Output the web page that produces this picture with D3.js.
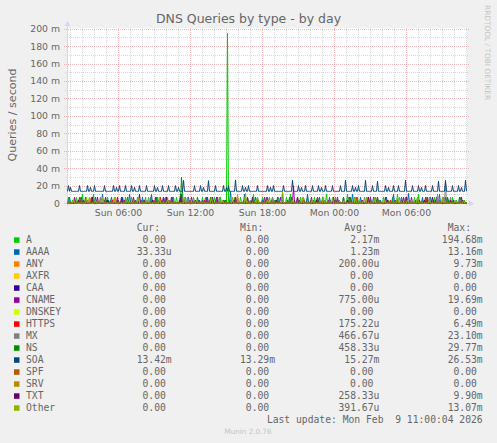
<!DOCTYPE html>
<html>
<head>
<meta charset="utf-8">
<script src="https://cdn.jsdelivr.net/npm/d3@7"></script>
<style>
body { margin: 0; background: #f0f0f0; }
svg { display: block; }
</style>
</head>
<body>
<svg id="chart" width="497" height="443"></svg>
<script>
// 400 five-minute slots, Sun 01:45 -> Mon 11:05
const slotStart = new Date(2026, 1, 8, 1, 45);
const slotCount = 400;

const seriesNames = ["A", "AAAA", "ANY", "AXFR", "CAA", "CNAME", "DNSKEY", "HTTPS", "MX", "NS", "SOA", "SPF", "SRV", "TXT", "Other"];
const seriesColors = ["#00cc00", "#0066b3", "#ff8000", "#ffcc00", "#330099", "#990099", "#ccff00", "#ff0000", "#808080", "#008f00", "#00487d", "#b35a00", "#b38f00", "#6b006b", "#8fb300"];
const curValues = ["0.00", "33.33u", "0.00", "0.00", "0.00", "0.00", "0.00", "0.00", "0.00", "0.00", "13.42m", "0.00", "0.00", "0.00", "0.00"];
const minValues = ["0.00", "0.00", "0.00", "0.00", "0.00", "0.00", "0.00", "0.00", "0.00", "0.00", "13.29m", "0.00", "0.00", "0.00", "0.00"];
const avgValues = ["2.17m", "1.23m", "200.00u", "0.00", "0.00", "775.00u", "0.00", "175.22u", "466.67u", "458.33u", "15.27m", "0.00", "0.00", "258.33u", "391.67u"];
const maxValues = ["194.68m", "13.16m", "9.73m", "0.00", "0.00", "19.69m", "0.00", "6.49m", "23.10m", "29.77m", "26.53m", "0.00", "0.00", "9.90m", "13.07m"];

const yTicks = [0, 20, 40, 60, 80, 100, 120, 140, 160, 180, 200];        // milli-queries/s
const yTickLabels = ["0", "20 m", "40 m", "60 m", "80 m", "100 m", "120 m", "140 m", "160 m", "180 m", "200 m"];

// per series: baseline level (m) and spikes as [slot, value in m]
const baselines = { SOA: 13.4 };
const spikesA = [[1,6.7],[5,3.3],[9,6.7],[13,6.7],[15,10],[18,3.3],[22,6.7],[26,10],[29,3.3],[33,6.7],[37,3.3],[40,6.7],[43,3.3],[47,6.7],[51,3.3],[55,6.7],[58,6.7],[61,3.3],[64,6.7],[68,3.3],[70,6.7],[74,3.3],[78,6.7],[83,6.7],[86,3.3],[90,6.7],[94,3.3],[98,6.7],[102,3.3],[106,6.7],[109,6.7],[112,3.3],[118,6.7],[122,3.3],[126,6.7],[131,3.3],[135,6.7],[138,6.7],[142,3.3],[147,6.7],[150,3.3],[153,6.7],[157,3.3],[160,194.68],[163,3.3],[167,6.7],[173,6.7],[176,3.3],[180,6.7],[183,3.3],[186,10],[191,3.3],[195,6.7],[198,3.3],[202,6.7],[207,3.3],[211,6.7],[215,3.3],[219,6.7],[223,10],[227,3.3],[233,6.7],[237,3.3],[240,6.7],[243,3.3],[247,6.7],[251,3.3],[255,6.7],[259,10],[263,3.3],[268,6.7],[272,3.3],[276,6.7],[280,10],[284,3.3],[287,6.7],[290,6.7],[294,3.3],[299,6.7],[303,3.3],[308,6.7],[312,3.3],[316,6.7],[321,3.3],[325,6.7],[330,10],[334,3.3],[338,6.7],[342,3.3],[347,6.7],[351,10],[355,3.3],[359,6.7],[363,3.3],[367,6.7],[372,3.3],[376,6.7],[381,3.3],[385,6.7],[389,3.3],[393,6.7],[397,3.3]];
const spikesAAAA = [[2,6.7],[8,3.3],[14,6.7],[20,3.3],[28,6.7],[35,10],[41,3.3],[44,6.7],[50,3.3],[55,6.7],[62,10],[68,3.3],[75,6.7],[80,3.3],[84,10],[91,3.3],[96,6.7],[101,3.3],[105,6.7],[113,10],[117,3.3],[121,6.7],[126,3.3],[130,6.7],[135,3.3],[139,6.7],[145,3.3],[150,6.7],[156,3.3],[163,13.16],[167,3.3],[170,6.7],[177,10],[183,3.3],[188,6.7],[195,3.3],[199,6.7],[204,3.3],[210,6.7],[215,10],[220,3.3],[224,6.7],[232,3.3],[236,6.7],[240,10],[246,3.3],[252,6.7],[257,3.3],[262,6.7],[270,3.3],[276,6.7],[285,10],[289,3.3],[293,6.7],[300,3.3],[306,6.7],[313,3.3],[319,6.7],[326,10],[330,3.3],[334,6.7],[341,11],[348,3.3],[355,6.7],[360,3.3],[363,6.7],[368,3.3],[372,10],[376,3.3],[380,6.7],[386,3.3],[392,6.7],[396,3.3],[399,0.033]];
const spikesANY = [[8,3.3],[22,6.7],[34,3.3],[48,6.7],[65,3.3],[100,6.7],[126,3.3],[170,9.73],[198,3.3],[236,6.7],[270,3.3],[300,6.7],[340,3.3],[375,6.7]];
const spikesCNAME = [[7,6.7],[16,3.3],[30,6.7],[38,6.7],[50,6.7],[57,3.3],[66,6.7],[77,3.3],[88,6.7],[96,6.7],[104,6.7],[114,10],[124,6.7],[132,3.3],[140,6.7],[149,6.7],[158,3.3],[168,6.7],[180,6.7],[190,3.3],[197,6.7],[205,6.7],[213,6.7],[226,19.69],[236,3.3],[244,6.7],[250,6.7],[261,3.3],[270,6.7],[282,6.7],[295,3.3],[303,6.7],[310,6.7],[318,6.7],[328,3.3],[336,6.7],[344,6.7],[352,3.3],[360,6.7],[369,6.7],[378,6.7],[386,3.3],[394,6.7]];
const spikesHTTPS = [[12,6.49],[16,3.3],[24,6.49],[45,3.3],[93,6.49],[137,3.3],[200,6.49],[255,3.3],[289,6.49],[323,3.3],[358,6.49]];
const spikesMX = [[33,6.7],[58,3.3],[81,6.7],[100,3.3],[120,6.7],[152,6.7],[183,3.3],[205,6.7],[230,6.7],[262,3.3],[281,6.7],[297,6.7],[318,3.3],[332,6.7],[350,3.3],[362,6.7],[370,10],[378,23.1],[383,6.7],[393,3.3]];
const spikesNS = [[18,6.7],[39,3.3],[60,6.7],[76,3.3],[89,6.7],[114,29.77],[115,10],[143,6.7],[168,3.3],[190,6.7],[208,3.3],[222,6.7],[250,6.7],[268,3.3],[283,6.7],[310,6.7],[330,3.3],[350,6.7],[366,3.3],[380,6.7]];
const spikesSOA = [[1,20],[3,18],[12,20],[20,20],[23,18],[27,20],[37,20],[46,20],[49,18],[52,20],[58,20],[64,20],[67,18],[72,20],[79,20],[87,20],[90,18],[95,20],[101,20],[108,20],[111,18],[116,26],[127,20],[133,20],[136,18],[141,25.6],[148,20],[156,20],[159,18],[161,20],[168,26.5],[175,20],[178,18],[181,20],[190,20],[200,20],[203,18],[206,20],[216,20],[225,26],[231,20],[234,18],[238,20],[245,20],[251,20],[254,18],[258,20],[265,20],[273,20],[278,26],[285,20],[288,18],[291,20],[298,26],[305,20],[310,25],[318,20],[321,18],[326,20],[331,20],[338,26],[345,20],[351,20],[354,18],[358,20],[365,20],[371,25],[378,26],[385,20],[391,20],[394,18],[398,26]];
const spikesTXT = [[11,3.3],[25,6.7],[40,3.3],[54,6.7],[72,9.9],[85,3.3],[99,6.7],[113,6.7],[128,3.3],[145,6.7],[166,3.3],[185,6.7],[209,3.3],[230,6.7],[249,3.3],[266,6.7],[280,3.3],[301,6.7],[320,3.3],[339,6.7],[357,3.3],[365,6.7],[383,3.3],[395,3.3]];
const spikesOther = [[6,3.3],[19,6.7],[28,3.3],[35,6.7],[47,6.7],[60,3.3],[71,6.7],[80,3.3],[92,6.7],[100,3.3],[117,6.7],[129,3.3],[144,6.7],[155,3.3],[165,6.7],[178,11],[190,6.7],[200,3.3],[215,13.07],[225,3.3],[235,6.7],[245,3.3],[256,6.7],[265,6.7],[277,3.3],[288,6.7],[296,3.3],[307,6.7],[317,3.3],[330,6.7],[340,3.3],[350,6.7],[362,3.3],[375,6.7],[388,3.3],[396,3.3]];

const spikesByName = { A: spikesA, AAAA: spikesAAAA, ANY: spikesANY, CNAME: spikesCNAME, HTTPS: spikesHTTPS, MX: spikesMX, NS: spikesNS, SOA: spikesSOA, TXT: spikesTXT, Other: spikesOther };

function buildSeries(name) {
    var base = baselines[name] || 0;
    var vals = new Array(slotCount).fill(base);
    (spikesByName[name] || []).forEach(s => { vals[s[0]] = s[1]; });
    return vals;
}

var svg = d3.select("#chart");
var plotLeft = 67, plotRight = 467, plotTop = 28, plotBottom = 203;
var axisColor = "#cfd6f8", fontColor = "#666666";
var minorGrid = "rgba(192,192,192,0.6)", majorGrid = "rgba(230,128,128,0.55)";
var slotEnd = d3.timeMinute.offset(slotStart, slotCount * 5);

var x = d3.scaleTime().domain([slotStart, slotEnd]).range([plotLeft, plotRight]);
var y = d3.scaleLinear().domain([0, 200]).range([plotBottom, plotBottom - 174.3]);

svg.append("rect").attr("width", 497).attr("height", 443).attr("fill", "#f0f0f0");
svg.append("rect").attr("x", plotLeft).attr("y", plotTop)
    .attr("width", plotRight - plotLeft).attr("height", plotBottom - plotTop).attr("fill", "#ffffff");

// grid
var grid = svg.append("g").attr("shape-rendering", "crispEdges").attr("stroke-dasharray", "1,1");
var hours = d3.timeHour.every(1).range(slotStart, slotEnd);
hours.forEach(h => {
    var major = h.getHours() % 6 === 0;
    var px = Math.round(x(h)) + 0.5;
    grid.append("line")
        .attr("x1", px).attr("x2", px).attr("y1", plotTop).attr("y2", plotBottom + (major ? 3 : 2))
        .attr("stroke", major ? majorGrid : minorGrid);
});
d3.range(10, 201, 10).forEach(v => {
    var major = v % 20 === 0;
    var py = Math.round(y(v)) + 0.5;
    grid.append("line")
        .attr("x1", plotLeft - (major ? 3 : 2)).attr("x2", plotRight + 2).attr("y1", py).attr("y2", py)
        .attr("stroke", major ? majorGrid : minorGrid);
});

// axes
svg.append("line").attr("x1", plotLeft - 3).attr("x2", plotRight + 3).attr("y1", plotBottom + 0.5).attr("y2", plotBottom + 0.5)
    .attr("stroke", axisColor).attr("shape-rendering", "crispEdges");
svg.append("line").attr("x1", plotLeft + 0.5).attr("x2", plotLeft + 0.5).attr("y1", plotBottom + 3).attr("y2", plotTop - 4)
    .attr("stroke", axisColor).attr("shape-rendering", "crispEdges");
svg.append("path").attr("d", `M${plotRight + 7},${plotBottom + 0.5} L${plotRight + 2},${plotBottom - 2.5} L${plotRight + 2},${plotBottom + 3.5} Z`).attr("fill", axisColor);
svg.append("path").attr("d", `M${plotLeft + 0.5},${plotTop - 7} L${plotLeft - 2.5},${plotTop - 2} L${plotLeft + 3.5},${plotTop - 2} Z`).attr("fill", axisColor);

// series lines
svg.append("clipPath").attr("id", "plotclip").append("rect")
    .attr("x", plotLeft).attr("y", plotTop).attr("width", plotRight - plotLeft).attr("height", plotBottom - plotTop + 1);
var line = d3.line()
    .x((d, i) => x(d3.timeMinute.offset(slotStart, i * 5)) + 0.5)
    .y(d => y(d));
var lines = svg.append("g").attr("clip-path", "url(#plotclip)");
seriesNames.forEach((name, k) => {
    lines.append("path")
        .datum(buildSeries(name))
        .attr("d", line)
        .attr("fill", "none")
        .attr("stroke", seriesColors[k])
        .attr("stroke-width", 1);
});

// tick labels
var tickFont = "DejaVu Sans";
svg.append("g").selectAll("text").data(yTicks).enter().append("text")
    .attr("x", 60).attr("y", d => y(d) + 3.5)
    .attr("text-anchor", "end")
    .attr("font-family", tickFont).attr("font-size", 9.3).attr("fill", fontColor)
    .text((d, i) => yTickLabels[i]);
var majorHours = hours.filter(h => h.getHours() % 6 === 0);
svg.append("g").selectAll("text").data(majorHours).enter().append("text")
    .attr("x", d => Math.round(x(d)) + 0.5).attr("y", 216)
    .attr("text-anchor", "middle")
    .attr("font-family", tickFont).attr("font-size", 9.3).attr("fill", fontColor)
    .text(d3.timeFormat("%a %H:%M"));

// titles
svg.append("text").attr("x", 248.5).attr("y", 23).attr("text-anchor", "middle")
    .attr("font-family", tickFont).attr("font-size", 12.5).attr("fill", fontColor)
    .text("DNS Queries by type - by day");
svg.append("text").attr("transform", "translate(15.5,115) rotate(-90)").attr("text-anchor", "middle")
    .attr("font-family", tickFont).attr("font-size", 11.1).attr("fill", fontColor)
    .text("Queries / second");
svg.append("text").attr("transform", "translate(485,5) rotate(90)").attr("text-anchor", "start")
    .attr("font-family", tickFont).attr("font-size", 7.4).attr("fill", "#c4c4c4")
    .text("RRDTOOL / TOBI OETIKER");

// legend
var mono = "DejaVu Sans Mono", cw = 5.85;
var colEnds = [171.7, 275, 379.3, 482.7];
var legend = svg.append("g").attr("font-family", mono).attr("font-size", 9.7).attr("fill", fontColor);
["Cur:", "Min:", "Avg:", "Max:"].forEach((h, j) => {
    legend.append("text").attr("x", colEnds[j] - 2 * cw).attr("y", 231).attr("text-anchor", "end").text(h);
});
function valueEnd(s, j) {
    return /[a-z]$/.test(s) ? colEnds[j] : colEnds[j] - cw;
}
seriesNames.forEach((name, k) => {
    var base = 243 + 12 * k;
    legend.append("rect").attr("x", 14).attr("y", base - 5.7).attr("width", 5.5).attr("height", 5.5)
        .attr("fill", seriesColors[k]);
    legend.append("text").attr("x", 26).attr("y", base).text(name);
    [curValues[k], minValues[k], avgValues[k], maxValues[k]].forEach((v, j) => {
        legend.append("text").attr("x", valueEnd(v, j)).attr("y", base).attr("text-anchor", "end").text(v);
    });
});
legend.append("text").attr("x", colEnds[3]).attr("y", 423).attr("text-anchor", "end")
    .style("white-space", "pre")
    .text("Last update: Mon Feb  9 11:00:04 2026");
svg.append("text").attr("x", 248).attr("y", 434).attr("text-anchor", "middle")
    .attr("font-family", tickFont).attr("font-size", 7.2).attr("fill", "#c4c4c4")
    .text("Munin 2.0.76");
</script>
</body>
</html>
